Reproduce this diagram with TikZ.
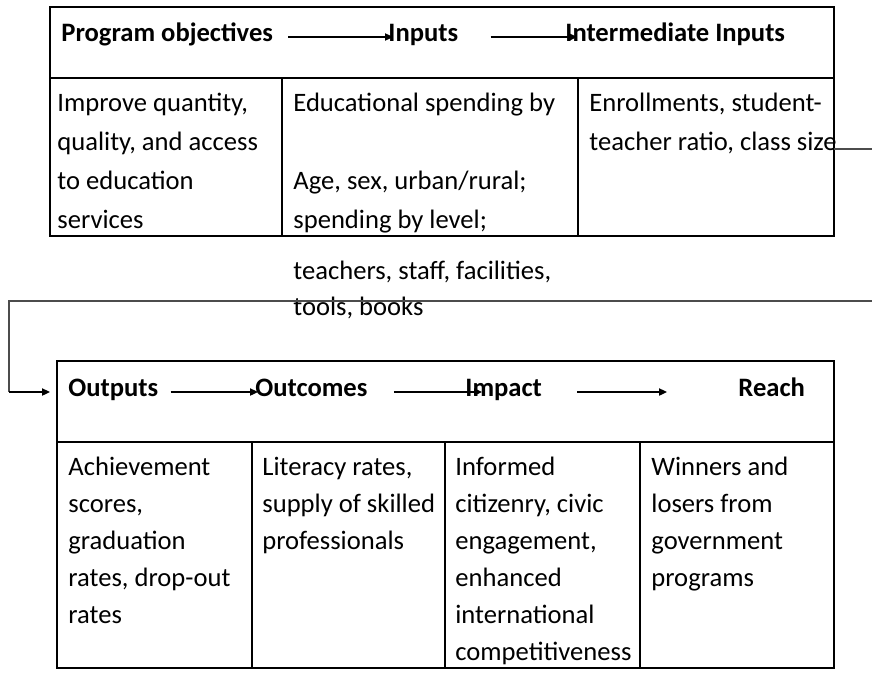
\documentclass[tikz,border=0pt]{standalone}
\usepackage{fontspec}
\setmainfont{Carlito}
\usetikzlibrary{arrows.meta,calc}

\begin{document}
\begin{tikzpicture}[x=0.5pt,y=-0.5pt,
  frame/.style={line width=1.1pt},
  rule/.style={line width=0.6pt},
  link/.style={line width=0.6pt, color=black!70},
  arr/.style={line width=0.8pt, -{Triangle[length=4pt,width=3.6pt]}},
  head/.style={anchor=base west, inner sep=0, font=\bfseries\fontsize{13.3}{16}\selectfont},
  cell/.style={anchor=north west, inner sep=0, align=left, execute at begin node={\rule{0pt}{12pt}},
    font=\fontsize{13.3}{19.5}\selectfont},
  cellb/.style={cell, font=\fontsize{13.3}{18.5}\selectfont}]
\useasboundingbox (0,0) rectangle (872,675);

% upper table
\draw[frame] (50,7) rectangle (834,236);
\draw[rule] (50,78) -- (834,78);
\foreach \x in {282,578} \draw[rule] (\x,78) -- (\x,236);

\node[head] (po) at (61,41) {Program objectives};
\node[head] (in) at (388,41) {Inputs};
\node[head] (ii) at (565,41) {Intermediate Inputs};
\draw[arr] ($(po.base east)+(15,-4)$) -- ($(in.base west)+(5,-4)$);
\draw[arr] ($(in.base east)+(32,-4)$) -- ($(ii.base west)+(12,-4)$);

\node[cell] (obj) at (57,93) {Improve quantity,\\quality, and access\\to education\\services};
\node[cell] (spend) at (293,93) {Educational spending by\\[19.5pt]Age, sex, urban/rural;\\spending by level;};
\node[cell] (enrol) at (589,93) {Enrollments, student-\\teacher ratio, class size};
\node[cell, font=\fontsize{13.3}{18}\selectfont] (staff) at (293,261) {teachers, staff, facilities,\\tools, books};

% lower table
\draw[frame] (57,361) rectangle (834,668);
\draw[rule] (57,442) -- (834,442);
\foreach \x in {252,445,640} \draw[rule] (\x,442) -- (\x,668);

\node[head] (out) at (68,396) {Outputs};
\node[head] (oc) at (255,396) {Outcomes};
\node[head] (im) at (465,396) {Impact};
\node[head] (re) at (738,396) {Reach};
\draw[arr] ($(out.base east)+(12,-4)$) -- ($(oc.base west)+(3,-4)$);
\draw[arr] ($(oc.base east)+(26,-4)$) -- ($(im.base west)+(17,-4)$);
\draw[arr] ($(im.base east)+(35,-4)$) -- ($(re.base west)+(-71,-4)$);

\node[cellb] (ach) at (68,457) {Achievement\\scores,\\graduation\\rates, drop-out\\rates};
\node[cellb] (lit) at (262,457) {Literacy rates,\\supply of skilled\\professionals};
\node[cellb] (cit) at (455,457) {Informed\\citizenry, civic\\engagement,\\enhanced\\international\\competitiveness};
\node[cellb] (win) at (651,457) {Winners and\\losers from\\government\\programs};

% link from the upper table round to the outputs
\coordinate (cs) at (834,149);
\coordinate (rt) at (872,149);
\coordinate (rb) at (872,301);
\coordinate (lb) at (9,301);
\coordinate (la) at (9,392);
\coordinate (ot) at (50,392);
\draw[link] (cs) -- (rt);
\draw[link] (rb) -- (lb) -- (la);
\draw[arr] (la) -- (ot);
\end{tikzpicture}
\end{document}
